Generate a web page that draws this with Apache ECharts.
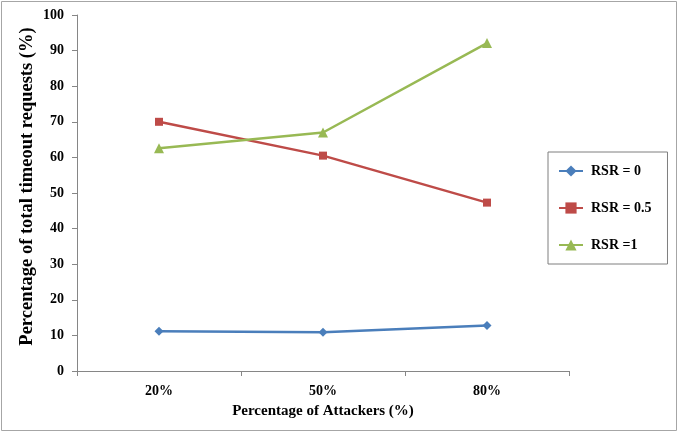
<!DOCTYPE html>
<html>
<head>
<meta charset="utf-8">
<script src="https://cdn.jsdelivr.net/npm/echarts@6/dist/echarts.min.js"></script>
<style>
  html, body { margin: 0; padding: 0; background: #fff; }
  #chart { width: 679px; height: 433px; }
</style>
</head>
<body>
<div id="chart"></div>
<script>
// Attacker share on the x axis, timeout percentage per RSR setting
const categories = ['20%', '50%', '80%'];
const rsr0 = [11.2, 10.9, 12.8];
const rsr05 = [70.0, 60.5, 47.3];
const rsr1 = [62.6, 67.0, 92.1];
const yTicks = { min: 0, max: 100, interval: 10 };

const serif = '"Liberation Serif", "Times New Roman", serif';
const axisGray = '#868686';

const chart = echarts.init(document.getElementById('chart'));

function lineSeries(name, data, color, symbol, size) {
  return {
    name: name,
    type: 'line',
    data: data,
    symbol: symbol,
    symbolSize: size,
    showSymbol: true,
    lineStyle: { color: color, width: 2.5 },
    itemStyle: { color: color },
    emphasis: { disabled: true },
    z: 3
  };
}

chart.setOption({
  animation: false,
  backgroundColor: '#fff',
  graphic: [{
    type: 'rect',
    shape: { x: 1.5, y: 1.5, width: 675, height: 429 },
    style: { fill: null, stroke: '#a6a6a6', lineWidth: 1 },
    silent: true
  }],
  grid: { left: 77, right: 110, top: 15, bottom: 62 },
  legend: {
    orient: 'vertical',
    left: 548,
    top: 152,
    padding: [12, 16, 12, 10],
    itemGap: 23,
    itemWidth: 24,
    itemHeight: 14,
    borderColor: '#7f7f7f',
    borderWidth: 1,
    textStyle: { fontFamily: serif, fontWeight: 'bold', fontSize: 14, color: '#000', padding: [0, 0, 0, 3] },
    data: ['RSR = 0', 'RSR = 0.5', 'RSR =1']
  },
  xAxis: {
    type: 'category',
    data: categories,
    boundaryGap: true,
    name: 'Percentage of Attackers (%)',
    nameLocation: 'middle',
    nameGap: 33,
    nameTextStyle: { fontFamily: serif, fontWeight: 'bold', fontSize: 15, color: '#000' },
    axisLine: { lineStyle: { color: axisGray, width: 1 } },
    axisTick: { show: true, alignWithLabel: false, length: 5, lineStyle: { color: axisGray } },
    axisLabel: { fontFamily: serif, fontWeight: 'bold', fontSize: 14, color: '#000', margin: 13 },
    splitLine: { show: false }
  },
  yAxis: {
    type: 'value',
    min: yTicks.min,
    max: yTicks.max,
    interval: yTicks.interval,
    name: 'Percentage of total timeout requests (%)',
    nameLocation: 'middle',
    nameGap: 40,
    nameMoveOverlap: false,
    nameTextStyle: { fontFamily: serif, fontWeight: 'bold', fontSize: 18.5, color: '#000', padding: [0, 0, 0, 13] },
    axisLine: { show: true, lineStyle: { color: axisGray, width: 1 } },
    axisTick: { show: true, length: 5, lineStyle: { color: axisGray } },
    axisLabel: { fontFamily: serif, fontWeight: 'bold', fontSize: 14, color: '#000', margin: 13 },
    splitLine: { show: false }
  },
  series: [
    lineSeries('RSR = 0', rsr0, '#4a7ebb', 'diamond', 9),
    lineSeries('RSR = 0.5', rsr05, '#be4b48', 'rect', 8),
    lineSeries('RSR =1', rsr1, '#98b954', 'triangle', 10)
  ]
});
</script>
</body>
</html>
